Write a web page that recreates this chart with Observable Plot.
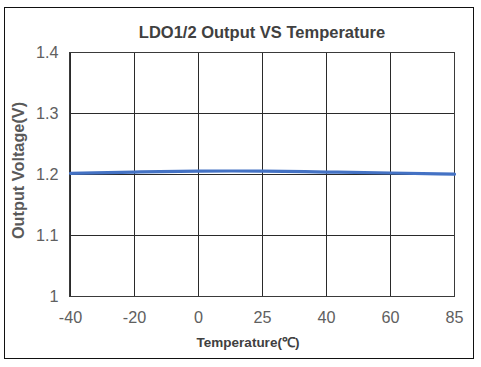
<!DOCTYPE html>
<html>
<head>
<meta charset="utf-8">
<script src="https://cdn.jsdelivr.net/npm/d3@7"></script>
<script src="https://cdn.jsdelivr.net/npm/@observablehq/plot@0.6"></script>
<style>
  html, body { margin: 0; padding: 0; background: #fff; }
  #wrap { position: relative; width: 481px; height: 367px; }
  #border { position: absolute; left: 4px; top: 7px; width: 470px; height: 352px; border: 1.5px solid #111; box-sizing: border-box; pointer-events: none; }
  #chart { position: absolute; left: 0; top: 0; }
  .tick-narrow text { font-family: "Liberation Sans Narrow", "Arial Narrow", "Liberation Sans", sans-serif; }
</style>
</head>
<body>
<div id="wrap"><div id="chart"></div><div id="border"></div></div>
<script>
const temperatures = ["-40", "-20", "0", "25", "40", "60", "85"];
const voltages = [1.202, 1.204, 1.2055, 1.2055, 1.204, 1.2025, 1.2005];
const yTicks = [1, 1.1, 1.2, 1.3, 1.4];
const title = "LDO1/2 Output VS Temperature";
const xLabel = "Temperature(℃)";
const yLabel = "Output Voltage(V)";

const data = temperatures.map((t, i) => ({t, v: voltages[i]}));
const font = "'Liberation Sans', Arial, Helvetica, sans-serif";

const plot = Plot.plot({
  width: 481,
  height: 367,
  marginLeft: 69,
  marginRight: 27,
  marginTop: 52,
  marginBottom: 71,
  style: {fontFamily: font, background: "transparent"},
  x: {type: "point", domain: temperatures, padding: 0},
  y: {domain: [1, 1.4]},
  marks: [
    Plot.gridX(temperatures, {stroke: "#2a2a2a", strokeOpacity: 1, strokeWidth: 1}),
    Plot.gridY(yTicks, {stroke: "#2a2a2a", strokeOpacity: 1, strokeWidth: 1}),
    Plot.frame({stroke: "#3a3a3a", strokeWidth: 1}),
    Plot.axisX(temperatures, {tickSize: 0, tickPadding: 15, fontSize: 16.2, fill: "#606060", label: null, className: "tick-narrow"}),
    Plot.axisY(yTicks, {tickSize: 0, tickPadding: 11, fontSize: 16.2, fill: "#606060", tickFormat: d => String(d), label: null, className: "tick-narrow"}),
    Plot.line(data, {x: "t", y: "v", stroke: "#4472C4", strokeWidth: 3.2, curve: "natural"}),
    Plot.text([title], {frameAnchor: "top", dy: -20, fontSize: 16.5, fontWeight: "bold", fill: "#404040", lineAnchor: "middle"}),
    Plot.text([xLabel], {frameAnchor: "bottom", dx: -14, dy: 46, fontSize: 13.5, fontWeight: "bold", fill: "#404040", lineAnchor: "middle"}),
    Plot.text([yLabel], {frameAnchor: "left", textAnchor: "middle", dx: -51, dy: -4, rotate: -90, fontSize: 16.3, fontWeight: "bold", fill: "#595959", lineAnchor: "middle"})
  ]
});
document.getElementById("chart").appendChild(plot);
</script>
</body>
</html>
